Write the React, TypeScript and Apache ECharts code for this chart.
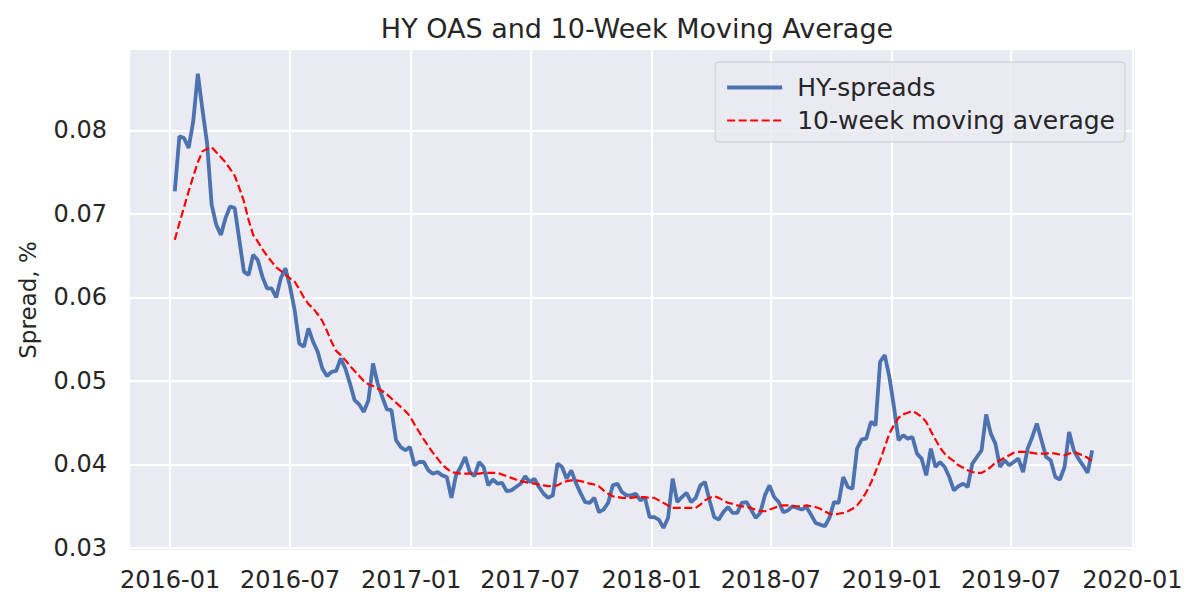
import { useEffect, useRef } from 'react';
import * as echarts from 'echarts';

// weekly observations, first one on this date
const firstWeek = '2016-01-08';

const hySpreads = [
  0.0727, 0.0793, 0.0791, 0.0779, 0.0811, 0.0868, 0.0825, 0.0785, 0.0711, 0.0687,
  0.0675, 0.0695, 0.0709, 0.0707, 0.0669, 0.0631, 0.0627, 0.0651, 0.0645, 0.0625,
  0.0611, 0.0611, 0.0600, 0.0623, 0.0635, 0.0613, 0.0585, 0.0545, 0.0541, 0.0563,
  0.0547, 0.0535, 0.0515, 0.0506, 0.0511, 0.0512, 0.0527, 0.0515, 0.0497, 0.0477,
  0.0472, 0.0463, 0.0477, 0.0521, 0.0497, 0.0481, 0.0466, 0.0465, 0.0429, 0.0421,
  0.0417, 0.0421, 0.0399, 0.0403, 0.0403, 0.0393, 0.0389, 0.0391, 0.0387, 0.0385,
  0.0360, 0.0387, 0.0397, 0.0409, 0.0391, 0.0386, 0.0403, 0.0397, 0.0375, 0.0382,
  0.0377, 0.0378, 0.0368, 0.0369, 0.0373, 0.0377, 0.0386, 0.0379, 0.0383, 0.0373,
  0.0365, 0.0360, 0.0363, 0.0401, 0.0397, 0.0383, 0.0393, 0.0378, 0.0366, 0.0355,
  0.0354, 0.0360, 0.0343, 0.0346, 0.0354, 0.0375, 0.0377, 0.0367, 0.0363, 0.0363,
  0.0365, 0.0357, 0.0360, 0.0337, 0.0337, 0.0334, 0.0324, 0.0336, 0.0383, 0.0355,
  0.0361, 0.0366, 0.0355, 0.0360, 0.0375, 0.0379, 0.0357, 0.0337, 0.0334, 0.0343,
  0.0349, 0.0342, 0.0342, 0.0354, 0.0355, 0.0346, 0.0336, 0.0342, 0.0363, 0.0375,
  0.0361, 0.0355, 0.0343, 0.0345, 0.0350, 0.0348, 0.0346, 0.0349, 0.0340, 0.0330,
  0.0328, 0.0326, 0.0336, 0.0355, 0.0354, 0.0385, 0.0373, 0.0371, 0.0419, 0.0430,
  0.0431, 0.0451, 0.0447, 0.0523, 0.0531, 0.0505, 0.0469, 0.0429, 0.0435, 0.0431,
  0.0433, 0.0413, 0.0407, 0.0387, 0.0419, 0.0397, 0.0403, 0.0397, 0.0385, 0.0369,
  0.0374, 0.0377, 0.0373, 0.0401, 0.0409, 0.0417, 0.0460, 0.0437, 0.0425, 0.0397,
  0.0405, 0.0399, 0.0403, 0.0407, 0.0391, 0.0419, 0.0433, 0.0449, 0.0429, 0.0409,
  0.0405, 0.0385, 0.0382, 0.0397, 0.0439, 0.0417, 0.0407, 0.0399, 0.0390, 0.0417,
];

const movingAverage = [
  0.0669, 0.0689, 0.0708, 0.0727, 0.0745, 0.0762, 0.0775, 0.0778, 0.0780, 0.0774,
  0.0768, 0.0762, 0.0754, 0.0746, 0.0731, 0.0715, 0.0693, 0.0675, 0.0667, 0.0658,
  0.0650, 0.0643, 0.0636, 0.0632, 0.0627, 0.0623, 0.0619, 0.0610, 0.0600, 0.0592,
  0.0587, 0.0580, 0.0572, 0.0560, 0.0547, 0.0536, 0.0531, 0.0525, 0.0518, 0.0512,
  0.0506, 0.0500, 0.0496, 0.0494, 0.0491, 0.0488, 0.0484, 0.0479, 0.0474, 0.0469,
  0.0464, 0.0458, 0.0448, 0.0439, 0.0430, 0.0422, 0.0414, 0.0407, 0.0400, 0.0395,
  0.0391, 0.0390, 0.0389, 0.0389, 0.0389, 0.0389, 0.0389, 0.0390, 0.0390, 0.0390,
  0.0390, 0.0388, 0.0386, 0.0384, 0.0382, 0.0380, 0.0379, 0.0378, 0.0377, 0.0376,
  0.0375, 0.0374, 0.0374, 0.0375, 0.0378, 0.0380, 0.0381, 0.0381, 0.0380, 0.0379,
  0.0377, 0.0376, 0.0374, 0.0369, 0.0365, 0.0362, 0.0361, 0.0360, 0.0360, 0.0360,
  0.0361, 0.0361, 0.0361, 0.0360, 0.0360, 0.0357, 0.0354, 0.0351, 0.0348, 0.0348,
  0.0348, 0.0348, 0.0348, 0.0348, 0.0352, 0.0357, 0.0360, 0.0362, 0.0360, 0.0357,
  0.0354, 0.0353, 0.0351, 0.0350, 0.0349, 0.0348, 0.0346, 0.0344, 0.0344, 0.0346,
  0.0348, 0.0350, 0.0351, 0.0351, 0.0350, 0.0350, 0.0350, 0.0351, 0.0350, 0.0349,
  0.0347, 0.0344, 0.0341, 0.0340, 0.0341, 0.0342, 0.0344, 0.0347, 0.0351, 0.0358,
  0.0367, 0.0378, 0.0391, 0.0405, 0.0421, 0.0437, 0.0447, 0.0456, 0.0460, 0.0462,
  0.0464, 0.0461, 0.0457, 0.0451, 0.0440, 0.0430, 0.0420, 0.0413, 0.0408, 0.0404,
  0.0399, 0.0396, 0.0393, 0.0391, 0.0390, 0.0390, 0.0393, 0.0397, 0.0402, 0.0405,
  0.0408, 0.0411, 0.0414, 0.0415, 0.0415, 0.0415, 0.0414, 0.0413, 0.0413, 0.0413,
  0.0414, 0.0413, 0.0412, 0.0411, 0.0413, 0.0415, 0.0413, 0.0411, 0.0408, 0.0404,
];

const xTickLabels = [
  '2016-01', '2016-07', '2017-01', '2017-07', '2018-01',
  '2018-07', '2019-01', '2019-07', '2020-01',
];
const yTickValues = [0.03, 0.04, 0.05, 0.06, 0.07, 0.08];

const DAY = 86400000;
const weeks = hySpreads.map((_, i) => Date.parse(firstWeek) + i * 7 * DAY);
const xTicks = xTickLabels.map(s => Date.parse(s + '-01'));

const textColor = '#262626';
const font = 'DejaVu Sans';
const blue = '#4C72B0';
const red = '#ff0000';

export default function App() {
  const chartRef = useRef<HTMLDivElement>(null);

  useEffect(() => {
    if (!chartRef.current) return;
    const chart = echarts.init(chartRef.current, undefined, { renderer: 'svg' });

    const option: echarts.EChartsOption = {
      animation: false,
      backgroundColor: '#ffffff',
      textStyle: { fontFamily: font },
      title: {
        text: 'HY OAS and 10-Week Moving Average',
        left: 632,
        textAlign: 'center',
        top: 10,
        textStyle: { color: textColor, fontSize: 27, fontWeight: 'normal', fontFamily: font },
      },
      grid: {
        left: 130,
        right: 65,
        top: 50,
        bottom: 64,
        show: true,
        backgroundColor: '#EAEAF2',
        borderWidth: 0,
      },
      legend: {
        right: 75,
        top: 62,
        orient: 'vertical',
        align: 'left',
        backgroundColor: 'rgba(234,234,242,0.8)',
        borderColor: '#cccccc',
        borderWidth: 1,
        borderRadius: 4,
        padding: [13, 10, 9, 10],
        itemGap: 8,
        itemWidth: 55,
        itemHeight: 14,
        itemStyle: { opacity: 0 },
        textStyle: { color: textColor, fontSize: 25, fontFamily: font, padding: [0, 0, 0, 10] },
        data: [
          { name: 'HY-spreads', lineStyle: { color: blue, width: 4 } },
          { name: '10-week moving average', lineStyle: { color: red, width: 2.2, type: [8, 3.5] } },
        ],
      },
      xAxis: {
        // dates as timestamps on a value axis, ticks placed on month starts
        type: 'value',
        min: Date.UTC(2015, 10, 1),
        max: Date.UTC(2020, 0, 5),
        axisLine: { show: false },
        axisTick: { show: false, customValues: xTicks },
        axisLabel: {
          customValues: xTicks,
          color: textColor,
          fontSize: 24,
          margin: 18,
          formatter: (v: number) => new Date(v).toISOString().slice(0, 7),
        },
        splitLine: { show: true, lineStyle: { color: '#ffffff', width: 2 } },
      },
      yAxis: {
        type: 'value',
        min: 0.02976,
        max: 0.08964,
        name: 'Spread, %',
        nameLocation: 'middle',
        nameGap: 91,
        nameTextStyle: { color: textColor, fontSize: 23, fontFamily: font },
        axisLine: { show: false },
        axisTick: { show: false, customValues: yTickValues },
        axisLabel: {
          customValues: yTickValues,
          color: textColor,
          fontSize: 24,
          margin: 23,
          formatter: (v: number) => v.toFixed(2),
        },
        splitLine: { show: true, lineStyle: { color: '#ffffff', width: 2 } },
      },
      series: [
        {
          name: 'HY-spreads',
          type: 'line',
          symbol: 'none',
          data: weeks.map((t, i) => [t, hySpreads[i]]),
          lineStyle: { color: blue, width: 3.8 },
          itemStyle: { color: blue },
        },
        {
          name: '10-week moving average',
          type: 'line',
          symbol: 'none',
          data: weeks.map((t, i) => [t, movingAverage[i]]),
          lineStyle: { color: red, width: 2.2, type: [8, 3.5] },
          itemStyle: { color: red },
        },
      ],
    };

    chart.setOption(option);

    return () => {
      chart.dispose();
    };
  }, []);

  return (
    <div
      ref={chartRef}
      style={{ position: 'fixed', left: 0, top: 0, width: 1200, height: 614 }}
    />
  );
}
